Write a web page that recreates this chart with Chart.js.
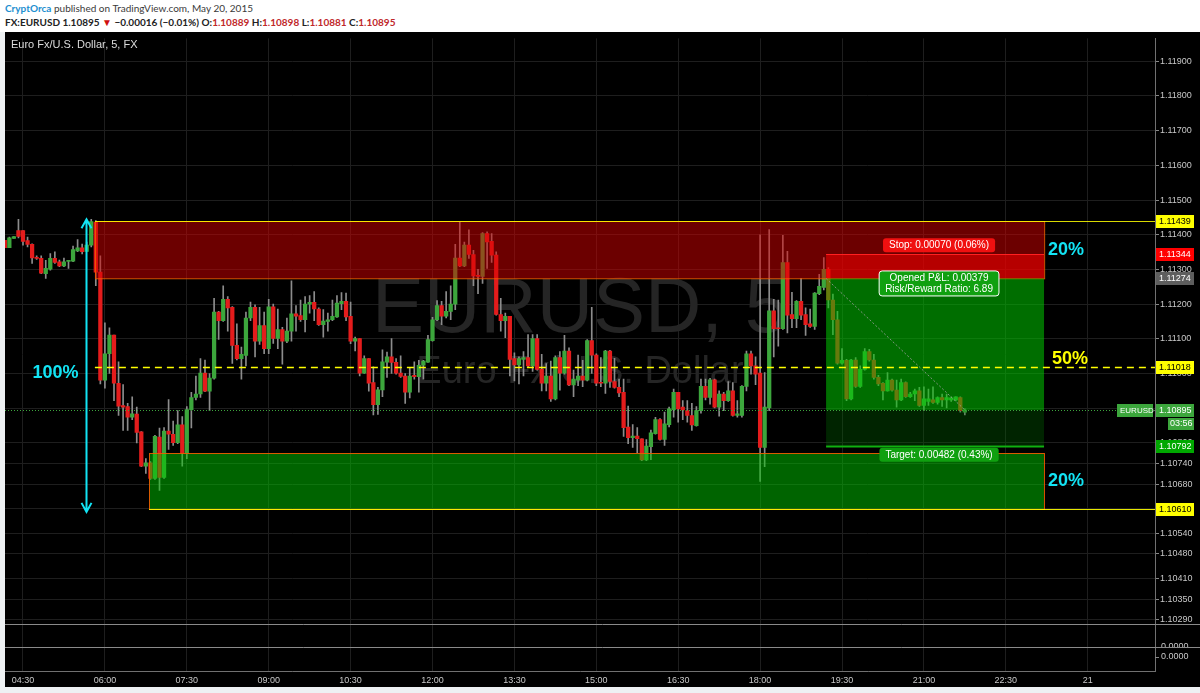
<!DOCTYPE html>
<html>
<head>
<meta charset="utf-8">
<script src="https://cdn.jsdelivr.net/npm/chart.js@4.4.0/dist/chart.umd.min.js"></script>
<style>
  html, body { margin: 0; padding: 0; width: 1200px; height: 693px; overflow: hidden; background: #eef1f3; }
  #hdr { position: absolute; left: 0; top: 0; width: 1200px; height: 32px; background: #fff; font-family: Lato, "Liberation Sans", sans-serif; }
  .l1 { position: absolute; left: 5px; top: 2px; font-size: 10px; color: #3a3a3a; white-space: nowrap; }
  .l1 .u { color: #1e8fd0; font-weight: bold; }
  .l2 { position: absolute; left: 5px; top: 16px; font-size: 10px; font-weight: bold; color: #222; white-space: nowrap; }
  .l2 .r { color: #c0282a; }
  .l2 .dn { color: #d01010; font-size: 10px; }
  #wrap { position: absolute; left: 5px; top: 32px; width: 1195px; height: 655px; background: #000; }
</style>
</head>
<body>
<div id="hdr">
  <div class="l1"><span class="u">CryptOrca</span> published on TradingView.com, May 20, 2015</div>
  <div class="l2">FX:EURUSD 1.10895 <span class="dn">▼</span> −0.00016 (−0.01%) O:<span class="r">1.10889</span> H:<span class="r">1.10898</span> L:<span class="r">1.10881</span> C:<span class="r">1.10895</span></div>
</div>
<div id="wrap"><canvas id="chart" width="1195" height="655"></canvas></div>
<script>
'use strict';

// ─── DATA: EURUSD 5-min bars, 04:10 → 21:45 (bar index 0 = 04:10) ─────────────

const opens = [
  1.11384, 1.11363, 1.11389, 1.11412, 1.11412, 1.11383, 1.11372, 1.11334, 1.11332, 1.11288,
  1.11301, 1.11332, 1.11322, 1.11310, 1.11323, 1.11324, 1.11353, 1.11362, 1.11352, 1.11370,
  1.11436, 1.11292, 1.10981, 1.11057, 1.11111, 1.10972, 1.10908, 1.10905, 1.10874, 1.10883,
  1.10832, 1.10733, 1.10743, 1.10698, 1.10817, 1.10701, 1.10834, 1.10825, 1.10801, 1.10852,
  1.10770, 1.10896, 1.10931, 1.10941, 1.11001, 1.10949, 1.10987, 1.11177, 1.11152, 1.11214,
  1.11191, 1.11081, 1.11043, 1.11052, 1.11160, 1.11191, 1.11093, 1.11138, 1.11072, 1.11192,
  1.11101, 1.11127, 1.11093, 1.11122, 1.11172, 1.11167, 1.11155, 1.11200, 1.11205, 1.11186,
  1.11141, 1.11150, 1.11155, 1.11163, 1.11201, 1.11208, 1.11165, 1.11093, 1.11101, 1.11001,
  1.11043, 1.10974, 1.10910, 1.10953, 1.11033, 1.11048, 1.11032, 1.11001, 1.10993, 1.10946,
  1.10995, 1.10991, 1.11024, 1.11033, 1.11095, 1.11155, 1.11196, 1.11165, 1.11179, 1.11200,
  1.11333, 1.11310, 1.11370, 1.11343, 1.11281, 1.11280, 1.11403, 1.11381, 1.11341, 1.11170,
  1.11152, 1.11165, 1.11043, 1.11025, 1.11041, 1.11046, 1.11022, 1.11101, 1.11012, 1.10972,
  1.10993, 1.10927, 1.11046, 1.11001, 1.11065, 1.10967, 1.10981, 1.10993, 1.10981, 1.11095,
  1.11053, 1.10974, 1.10972, 1.11065, 1.10977, 1.10960, 1.10946, 1.10846, 1.10815, 1.10820,
  1.10812, 1.10751, 1.10789, 1.10827, 1.10867, 1.10810, 1.10853, 1.10896, 1.10946, 1.10903,
  1.10893, 1.10879, 1.10850, 1.10893, 1.10963, 1.10931, 1.10982, 1.10903, 1.10941, 1.10922,
  1.10950, 1.10879, 1.10879, 1.10963, 1.11057, 1.11022, 1.11001, 1.10787, 1.10901, 1.11181,
  1.11132, 1.11129, 1.11320, 1.11170, 1.11158, 1.11208, 1.11170, 1.11143, 1.11136, 1.11230,
  1.11248, 1.11300, 1.11212, 1.11155, 1.11030, 1.11038, 1.10927, 1.11039, 1.10963, 1.11012,
  1.11063, 1.11039, 1.10989, 1.10972, 1.10950, 1.10981, 1.10952, 1.10924, 1.10974, 1.10933,
  1.10941, 1.10950, 1.10908, 1.10920, 1.10924, 1.10917, 1.10931, 1.10924, 1.10924, 1.10924,
  1.10931, 1.10889
];
const highs = [
  1.11384, 1.11393, 1.11395, 1.11444, 1.11412, 1.11393, 1.11374, 1.11339, 1.11339, 1.11326,
  1.11346, 1.11351, 1.11327, 1.11333, 1.11326, 1.11367, 1.11386, 1.11373, 1.11379, 1.11444,
  1.11441, 1.11339, 1.11146, 1.11132, 1.11111, 1.11034, 1.10968, 1.10914, 1.10933, 1.10903,
  1.10833, 1.10755, 1.10746, 1.10822, 1.10843, 1.10844, 1.10925, 1.10863, 1.10893, 1.10876,
  1.10905, 1.10946, 1.10993, 1.11043, 1.11039, 1.11000, 1.11217, 1.11179, 1.11253, 1.11222,
  1.11193, 1.11143, 1.11076, 1.11177, 1.11206, 1.11198, 1.11191, 1.11177, 1.11214, 1.11200,
  1.11186, 1.11133, 1.11160, 1.11267, 1.11196, 1.11212, 1.11222, 1.11225, 1.11236, 1.11189,
  1.11184, 1.11174, 1.11212, 1.11225, 1.11233, 1.11232, 1.11206, 1.11105, 1.11101, 1.11051,
  1.11043, 1.11019, 1.10960, 1.11068, 1.11062, 1.11101, 1.11043, 1.11051, 1.11000, 1.11017,
  1.11034, 1.11038, 1.11038, 1.11110, 1.11162, 1.11210, 1.11208, 1.11236, 1.11253, 1.11372,
  1.11436, 1.11379, 1.11414, 1.11355, 1.11300, 1.11406, 1.11408, 1.11403, 1.11351, 1.11217,
  1.11174, 1.11165, 1.11060, 1.11048, 1.11063, 1.11112, 1.11112, 1.11112, 1.11055, 1.11029,
  1.11036, 1.11051, 1.11063, 1.11110, 1.11074, 1.11010, 1.11053, 1.11038, 1.11098, 1.11191,
  1.11057, 1.11046, 1.11067, 1.11067, 1.11044, 1.10984, 1.10984, 1.10906, 1.10853, 1.10844,
  1.10812, 1.10810, 1.10837, 1.10874, 1.10870, 1.10889, 1.10903, 1.10955, 1.10946, 1.10922,
  1.10922, 1.10914, 1.10905, 1.10984, 1.10984, 1.10986, 1.10984, 1.10950, 1.10946, 1.10977,
  1.10974, 1.10922, 1.10965, 1.11065, 1.11065, 1.11048, 1.11400, 1.11003, 1.11415, 1.11214,
  1.11212, 1.11398, 1.11352, 1.11234, 1.11210, 1.11274, 1.11189, 1.11186, 1.11233, 1.11286,
  1.11334, 1.11305, 1.11229, 1.11179, 1.11072, 1.11041, 1.11041, 1.11046, 1.11022, 1.11072,
  1.11070, 1.11055, 1.10995, 1.10974, 1.11003, 1.10984, 1.10981, 1.10984, 1.10976, 1.10946,
  1.10955, 1.10960, 1.10962, 1.10955, 1.10962, 1.10933, 1.10941, 1.10941, 1.10933, 1.10933,
  1.10933, 1.10898
];
const lows = [
  1.11363, 1.11363, 1.11389, 1.11391, 1.11370, 1.11365, 1.11317, 1.11329, 1.11288, 1.11274,
  1.11298, 1.11317, 1.11308, 1.11308, 1.11303, 1.11322, 1.11351, 1.11345, 1.11351, 1.11365,
  1.11253, 1.10970, 1.10958, 1.11000, 1.10922, 1.10879, 1.10836, 1.10836, 1.10867, 1.10800,
  1.10732, 1.10712, 1.10695, 1.10695, 1.10663, 1.10698, 1.10781, 1.10793, 1.10798, 1.10733,
  1.10755, 1.10843, 1.10924, 1.10931, 1.10948, 1.10893, 1.10984, 1.11098, 1.11150, 1.11122,
  1.11029, 1.11039, 1.10984, 1.11022, 1.11152, 1.11048, 1.11084, 1.11057, 1.11057, 1.11087,
  1.11072, 1.11027, 1.11089, 1.11093, 1.11122, 1.11150, 1.11120, 1.11174, 1.11152, 1.11139,
  1.11105, 1.11122, 1.11152, 1.11162, 1.11184, 1.11152, 1.11086, 1.11065, 1.10993, 1.11000,
  1.10949, 1.10881, 1.10882, 1.10933, 1.10989, 1.11000, 1.10998, 1.10989, 1.10914, 1.10930,
  1.10984, 1.10946, 1.10984, 1.11032, 1.11093, 1.11152, 1.11141, 1.11160, 1.11155, 1.11184,
  1.11308, 1.11308, 1.11332, 1.11253, 1.11230, 1.11260, 1.11303, 1.11320, 1.11168, 1.11122,
  1.11103, 1.10993, 1.10979, 1.10970, 1.10993, 1.11017, 1.11006, 1.11010, 1.10950, 1.10950,
  1.10920, 1.10924, 1.10952, 1.10998, 1.10965, 1.10933, 1.10965, 1.10962, 1.10979, 1.11000,
  1.10965, 1.10962, 1.10943, 1.10960, 1.10958, 1.10933, 1.10819, 1.10798, 1.10787, 1.10772,
  1.10749, 1.10749, 1.10752, 1.10825, 1.10808, 1.10793, 1.10846, 1.10874, 1.10860, 1.10867,
  1.10860, 1.10836, 1.10848, 1.10886, 1.10924, 1.10912, 1.10901, 1.10877, 1.10893, 1.10920,
  1.10877, 1.10874, 1.10874, 1.10950, 1.10998, 1.10968, 1.10689, 1.10732, 1.10893, 1.11048,
  1.11079, 1.11127, 1.11117, 1.11132, 1.11132, 1.11155, 1.11110, 1.11133, 1.11127, 1.11227,
  1.11241, 1.11189, 1.11112, 1.11027, 1.11027, 1.10922, 1.10924, 1.10960, 1.10960, 1.11010,
  1.11036, 1.10984, 1.10965, 1.10924, 1.10949, 1.10949, 1.10903, 1.10922, 1.10931, 1.10931,
  1.10922, 1.10905, 1.10893, 1.10908, 1.10914, 1.10912, 1.10905, 1.10901, 1.10920, 1.10922,
  1.10889, 1.10881
];
const closes = [
  1.11363, 1.11391, 1.11395, 1.11395, 1.11381, 1.11372, 1.11333, 1.11332, 1.11289, 1.11303,
  1.11332, 1.11320, 1.11310, 1.11322, 1.11324, 1.11357, 1.11362, 1.11351, 1.11370, 1.11438,
  1.11292, 1.10981, 1.11057, 1.11111, 1.10972, 1.10906, 1.10903, 1.10874, 1.10884, 1.10830,
  1.10733, 1.10743, 1.10698, 1.10819, 1.10701, 1.10834, 1.10825, 1.10801, 1.10852, 1.10770,
  1.10896, 1.10931, 1.10941, 1.11001, 1.10949, 1.10987, 1.11177, 1.11152, 1.11214, 1.11189,
  1.11081, 1.11043, 1.11055, 1.11160, 1.11191, 1.11093, 1.11138, 1.11072, 1.11192, 1.11101,
  1.11127, 1.11093, 1.11122, 1.11172, 1.11165, 1.11155, 1.11200, 1.11205, 1.11186, 1.11141,
  1.11151, 1.11155, 1.11165, 1.11203, 1.11208, 1.11163, 1.11093, 1.11101, 1.11001, 1.11043,
  1.10972, 1.10910, 1.10953, 1.11034, 1.11048, 1.11032, 1.11001, 1.10992, 1.10946, 1.10993,
  1.10991, 1.11024, 1.11036, 1.11098, 1.11155, 1.11196, 1.11165, 1.11179, 1.11200, 1.11333,
  1.11310, 1.11370, 1.11343, 1.11281, 1.11280, 1.11403, 1.11379, 1.11341, 1.11170, 1.11152,
  1.11165, 1.11041, 1.11025, 1.11043, 1.11046, 1.11022, 1.11101, 1.11012, 1.10972, 1.10993,
  1.10927, 1.11046, 1.11001, 1.11065, 1.10967, 1.10984, 1.10993, 1.10981, 1.11095, 1.11053,
  1.10972, 1.10972, 1.11065, 1.10977, 1.10960, 1.10944, 1.10844, 1.10815, 1.10820, 1.10812,
  1.10751, 1.10791, 1.10829, 1.10867, 1.10810, 1.10855, 1.10898, 1.10946, 1.10898, 1.10895,
  1.10879, 1.10852, 1.10893, 1.10963, 1.10931, 1.10982, 1.10903, 1.10941, 1.10922, 1.10950,
  1.10879, 1.10884, 1.10963, 1.11057, 1.11022, 1.10998, 1.10787, 1.10903, 1.11181, 1.11129,
  1.11129, 1.11320, 1.11168, 1.11158, 1.11208, 1.11168, 1.11141, 1.11136, 1.11232, 1.11251,
  1.11300, 1.11212, 1.11155, 1.11030, 1.11038, 1.10927, 1.11039, 1.10963, 1.11012, 1.11063,
  1.11039, 1.10989, 1.10970, 1.10950, 1.10981, 1.10952, 1.10924, 1.10974, 1.10933, 1.10941,
  1.10950, 1.10908, 1.10927, 1.10927, 1.10917, 1.10931, 1.10924, 1.10931, 1.10930, 1.10933,
  1.10893, 1.10895
];

// x-axis: bar index of each time label
const xTickPos    = [4, 22, 40, 58, 76, 94, 112, 130, 148, 166, 184, 202, 220, 238];
const xTickLabels = ['04:30', '06:00', '07:30', '09:00', '10:30', '12:00', '13:30',
                     '15:00', '16:30', '18:00', '19:30', '21:00', '22:30', '21'];
// price axis ticks as TradingView printed them
const yTickValues = [1.119, 1.118, 1.117, 1.116, 1.115, 1.114, 1.113, 1.112, 1.111, 1.110,
                     1.109, 1.108, 1.1074, 1.1068, 1.1061, 1.1054, 1.1048, 1.1041, 1.1035, 1.1029];

// drawings (price levels / bar indexes)
const resistZone  = [1.11274, 1.11439];
const supportZone = [1.10610, 1.10771];
const midLevel    = 1.11018;
const resistFrom  = 19.8;
const supportFrom = 31.7;
const zoneTo      = 228.4;
const arrowAt     = 17.85;
const posFrom     = 180.5;
const entry  = 1.11274;
const stop   = 1.11344;
const target = 1.10792;
const last   = 1.10895;
const lastBar = opens.length - 1;

// ─── COLOURS ─────────────────────────────────────────────────────────────────

const UP   = '#3ca63c';
const DOWN = '#e41c1c';
const WICK = '#8c8c8c';
const CYAN = '#12e4f4';
const AXIS_FONT = '"Liberation Sans", Arial, sans-serif';
const FONT = '"Liberation Sans", Arial, sans-serif';

// ─── HELPERS ─────────────────────────────────────────────────────────────────

function hline(ctx, y, x0, x1, color, width, dash) {
  ctx.save();
  ctx.strokeStyle = color;
  ctx.lineWidth = width || 1;
  ctx.setLineDash(dash || []);
  const yy = Math.round(y) + 0.5;
  ctx.beginPath(); ctx.moveTo(x0, yy); ctx.lineTo(x1, yy); ctx.stroke();
  ctx.restore();
}

function roundRect(ctx, x, y, w, h, r) {
  ctx.beginPath();
  ctx.moveTo(x + r, y);
  ctx.arcTo(x + w, y, x + w, y + h, r);
  ctx.arcTo(x + w, y + h, x, y + h, r);
  ctx.arcTo(x, y + h, x, y, r);
  ctx.arcTo(x, y, x + w, y, r);
  ctx.closePath();
}

function tag(ctx, lines, cx, cy, bg, border) {
  ctx.save();
  ctx.font = '10px ' + FONT;
  const w = Math.max(...lines.map(t => ctx.measureText(t).width)) + 12;
  const h = lines.length * 11 + 3;
  roundRect(ctx, cx - w / 2, cy - h / 2, w, h, 3);
  ctx.fillStyle = bg; ctx.fill();
  if (border) { ctx.strokeStyle = border; ctx.lineWidth = 1; ctx.stroke(); }
  ctx.fillStyle = '#fff';
  ctx.textAlign = 'center';
  ctx.textBaseline = 'middle';
  lines.forEach((t, i) => ctx.fillText(t, cx, cy - (lines.length - 1) * 5.5 + i * 11 + 0.5));
  ctx.restore();
}

// ─── DRAWINGS PLUGIN ─────────────────────────────────────────────────────────

const drawings = {
  id: 'drawings',

  beforeDatasetsDraw(chart) {
    const { ctx, chartArea: a } = chart;
    ctx.save();
    ctx.fillStyle = '#252525';
    ctx.textAlign = 'center';
    const cx = (a.left + a.right) / 2;
    ctx.font = '78px ' + FONT;
    ctx.fillText('EURUSD, 5', cx, 300);
    ctx.font = '38px ' + FONT;
    ctx.fillText('Euro Fx/U.S. Dollar', cx, 351);
    ctx.restore();
  },

  afterDatasetsDraw(chart) {
    const { ctx, chartArea: a, scales: { x, y } } = chart;
    const X = v => x.getPixelForValue(v);
    const Y = v => y.getPixelForValue(v);

    ctx.save();
    ctx.beginPath(); ctx.rect(a.left, a.top, a.width, a.height); ctx.clip();

    // resistance zone (red) and support zone (green)
    const rx0 = X(resistFrom), sx0 = X(supportFrom), zx1 = X(zoneTo);
    ctx.fillStyle = 'rgba(215,0,0,0.5)';
    ctx.fillRect(rx0, Y(resistZone[1]), zx1 - rx0, Y(resistZone[0]) - Y(resistZone[1]));
    ctx.fillStyle = 'rgba(0,200,0,0.5)';
    ctx.fillRect(sx0, Y(supportZone[1]), zx1 - sx0, Y(supportZone[0]) - Y(supportZone[1]));
    ctx.strokeStyle = 'rgba(240,90,0,0.9)';
    ctx.lineWidth = 1;
    ctx.strokeRect(Math.round(rx0) + 0.5, Math.round(Y(resistZone[1])) + 0.5, zx1 - rx0, Y(resistZone[0]) - Y(resistZone[1]));
    ctx.strokeRect(Math.round(sx0) + 0.5, Math.round(Y(supportZone[1])) + 0.5, zx1 - sx0, Y(supportZone[0]) - Y(supportZone[1]));

    // position tool (short): stop, profit taken, remaining to target
    const px0 = X(posFrom);
    ctx.fillStyle = 'rgba(255,0,0,0.5)';
    ctx.fillRect(px0, Y(stop), zx1 - px0, Y(entry) - Y(stop));
    ctx.fillStyle = 'rgba(0,200,0,0.55)';
    ctx.fillRect(px0, Y(entry), zx1 - px0, Y(last) - Y(entry));
    ctx.fillStyle = 'rgba(0,120,0,0.3)';
    ctx.fillRect(px0, Y(last), zx1 - px0, Y(target) - Y(last));
    hline(ctx, Y(stop), px0, zx1, '#ff2020', 1);
    hline(ctx, Y(target), px0, zx1, '#10b010', 2);

    // entry → last price dotted diagonal
    ctx.save();
    ctx.strokeStyle = 'rgba(160,160,160,0.8)';
    ctx.setLineDash([2, 2]);
    ctx.beginPath(); ctx.moveTo(px0, Y(entry)); ctx.lineTo(X(lastBar), Y(last)); ctx.stroke();
    ctx.restore();

    // horizontal levels
    hline(ctx, Y(resistZone[1]), rx0, a.right, 'rgba(255,255,0,0.85)', 1);
    hline(ctx, Y(supportZone[0]), sx0, a.right, 'rgba(255,255,0,0.9)', 1);
    hline(ctx, Y(midLevel), rx0, a.right, '#ffff00', 1.5, [7, 5]);
    hline(ctx, Y(last), a.left, a.right, '#3ca63c', 1, [1, 2]);

    // 100% arrow
    const ax = Math.round(X(arrowAt)) + 0.5;
    const ay0 = Y(resistZone[1]) - 2, ay1 = Y(supportZone[0]) + 3;
    ctx.strokeStyle = CYAN;
    ctx.lineWidth = 2;
    ctx.beginPath();
    ctx.moveTo(ax, ay0); ctx.lineTo(ax, ay1);
    ctx.moveTo(ax - 5, ay0 + 9); ctx.lineTo(ax, ay0); ctx.lineTo(ax + 5, ay0 + 9);
    ctx.moveTo(ax - 5, ay1 - 9); ctx.lineTo(ax, ay1); ctx.lineTo(ax + 5, ay1 - 9);
    ctx.stroke();

    // percentage texts
    ctx.font = 'bold 18px ' + FONT;
    ctx.textBaseline = 'middle';
    ctx.textAlign = 'left';
    ctx.fillStyle = CYAN;
    ctx.fillText('20%', zx1 + 4, Y((resistZone[0] + resistZone[1]) / 2));
    ctx.fillText('20%', zx1 + 4, Y((supportZone[0] + supportZone[1]) / 2));
    ctx.fillStyle = '#ffff00';
    ctx.fillText('50%', zx1 + 8, Y(midLevel) - 8);
    ctx.fillStyle = CYAN;
    ctx.textAlign = 'center';
    ctx.fillText('100%', ax - 31, Y(midLevel) + 6);

    // position labels
    const pcx = (px0 + zx1) / 2 + 4;
    tag(ctx, ['Stop: 0.00070 (0.06%)'], pcx, Y(stop) - 9, '#f01010');
    tag(ctx, ['Opened P&L: 0.00379', 'Risk/Reward Ratio: 6.89'], pcx, Y(entry) + 5, '#10a010', '#ffffff');
    tag(ctx, ['Target: 0.00482 (0.43%)'], pcx, Y(target) + 9, '#10a010');

    ctx.restore();
  },

  afterDraw(chart) {
    const { ctx, chartArea: a, scales: { y }, width } = chart;
    const Y = v => y.getPixelForValue(v);
    const r = a.right;

    // title
    ctx.save();
    ctx.font = '11px ' + FONT;
    ctx.fillStyle = '#dcdcdc';
    ctx.textBaseline = 'middle';
    ctx.fillText('Euro Fx/U.S. Dollar, 5, FX', 6, 13);

    // lower panes
    ctx.save();
    ctx.beginPath(); ctx.rect(r, 593, width - r, 22); ctx.clip();
    ctx.fillStyle = '#c8c8c8'; ctx.font = '9px ' + AXIS_FONT;
    ctx.fillText('0.0000', r + 6, 615);
    ctx.restore();
    hline(ctx, 592, 0, width, '#8a8a8a', 1);
    hline(ctx, 615, 0, width, '#8a8a8a', 1);
    hline(ctx, 625, r, r + 4, '#888', 1);
    ctx.fillStyle = '#c8c8c8'; ctx.font = '9px ' + AXIS_FONT;
    ctx.fillText('0.0000', r + 6, 625);

    // price axis tags
    ctx.font = '9px ' + AXIS_FONT;
    const axisTag = (v, bg, fg) => {
      const yy = Math.round(Y(v));
      ctx.fillStyle = bg; ctx.fillRect(r + 1, yy - 6, 38, 13);
      ctx.fillStyle = fg; ctx.fillText(v.toFixed(5), r + 4, yy + 1);
    };
    axisTag(resistZone[1], '#ffff00', '#000');
    axisTag(stop, '#ff0000', '#fff');
    axisTag(entry, '#5e5e5e', '#fff');
    axisTag(midLevel, '#ffff00', '#000');
    axisTag(last, '#3ca63c', '#fff');
    axisTag(target, '#00a800', '#fff');
    axisTag(supportZone[0], '#ffff00', '#000');

    // countdown + symbol tag on last price
    const ly = Math.round(Y(last));
    ctx.fillStyle = '#3ca63c';
    ctx.fillRect(r + 13, ly + 8, 26, 12);
    ctx.fillRect(r - 38, ly - 6, 36, 13);
    ctx.fillStyle = '#fff';
    ctx.fillText('03:56', r + 15, ly + 14);
    ctx.font = '8px ' + AXIS_FONT;
    ctx.fillText('EURUSD', r - 35, ly + 1);
    ctx.restore();
  }
};

// ─── CHART ───────────────────────────────────────────────────────────────────

const bars = opens.map((_, k) => k);

new Chart(document.getElementById('chart'), {
  type: 'bar',
  data: {
    datasets: [
      {
        label: 'wick',
        data: bars.map(k => ({ x: k, y: [lows[k], highs[k]] })),
        backgroundColor: WICK,
        barThickness: 1,
        minBarLength: 1,
        grouped: false,
        order: 2,
      },
      {
        label: 'body',
        data: bars.map(k => ({ x: k, y: [opens[k], closes[k]] })),
        backgroundColor: c => closes[c.dataIndex] >= opens[c.dataIndex] ? UP : DOWN,
        barThickness: 3.6,
        minBarLength: 1,
        grouped: false,
        order: 1,
      },
    ],
  },
  options: {
    responsive: false,
    animation: false,
    layout: { padding: { top: 1, left: 0, right: 0, bottom: 0 } },
    plugins: { legend: { display: false }, tooltip: { enabled: false } },
    scales: {
      x: {
        type: 'linear',
        offset: false,
        min: 0.044,
        max: 252.79,
        afterBuildTicks: s => { s.ticks = xTickPos.map(v => ({ value: v })); },
        afterFit: s => { s.height = 16; },
        grid: { color: '#1e1e1e', drawTicks: false, offset: false },
        border: { color: '#707070' },
        ticks: {
          color: '#c8c8c8',
          font: { size: 9, family: AXIS_FONT },
          padding: 4,
          maxRotation: 0,
          autoSkip: false,
          callback: (v, i) => xTickLabels[i],
        },
      },
      y: {
        position: 'right',
        min: 1.1014286,
        max: 1.1196571,
        afterBuildTicks: s => { s.ticks = yTickValues.map(v => ({ value: v })); },
        afterFit: s => { s.width = 45; },
        grid: { color: '#1e1e1e', tickColor: '#888', tickLength: 4 },
        border: { color: '#707070' },
        ticks: {
          color: '#c8c8c8',
          font: { size: 9, family: AXIS_FONT },
          padding: 1,
          callback: v => v.toFixed(5),
        },
      },
    },
  },
  plugins: [drawings],
});
</script>
</body>
</html>
